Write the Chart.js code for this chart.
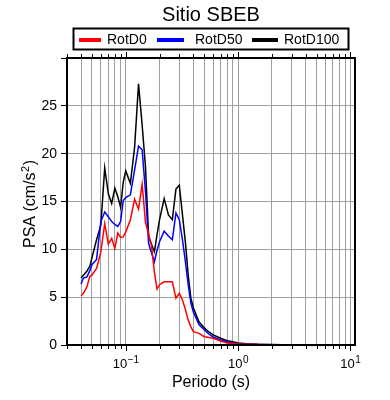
<!DOCTYPE html>
<html><head><meta charset="utf-8">
<script src="https://cdn.jsdelivr.net/npm/chart.js@4"></script>
<style>html,body{margin:0;padding:0;background:#fff}canvas{display:block}</style>
</head><body>
<canvas id="c" width="390" height="400"></canvas>
<script>
const titleText = 'Sitio SBEB';
const xTitle = 'Periodo (s)';
const yTitleMain = 'PSA (cm/s';
const yTitleSup = '2';
const yTitleEnd = ')';
const seriesNames = ['RotD0', 'RotD50', 'RotD100'];
const seriesColors = ['#ff0000', '#0000ff', '#000000'];
const periods = [0.04,0.042,0.045,0.048,0.05,0.055,0.06,0.065,0.07,0.075,0.08,0.085,0.09,0.095,0.1,0.11,0.12,0.13,0.14,0.15,0.16,0.17,0.18,0.19,0.2,0.22,0.24,0.26,0.28,0.3,0.32,0.34,0.36,0.38,0.4,0.45,0.5,0.55,0.6,0.7,0.8,0.9,1.0,1.2,1.5,2,2.5,3,4,5,6,7,8,10];
const rotD0 = [5.15,5.4,6.05,7.2,7.3, 8.0,9.7,12.7,10.55,11.15, 10.1,11.7,11.25,11.3,11.8, 13.1,15.25,14.2,16.8,12.8, 11.6,10.3,7.6,5.85,6.3, 6.6,6.6,6.6,4.9,5.4, 4.7,3.7,2.6,1.9,1.4, 1.22,0.87,0.78,0.7,0.42, 0.21,0.15,0.1,0.07,0.04, 0.02,0.015,0.01,0.008,0.006, 0.005,0.004,0.004,0.003];
const rotD50 = [6.37,7.0,7.1,7.8,8.4, 8.95,12.9,13.9,13.4,12.9, 12.6,12.4,12.9,15.1,15.4, 15.7,18.3,20.8,20.4,16.0, 10.6,9.6,8.7,9.9,10.8, 11.9,11.4,11.0,13.8,13.1, 11.0,8.7,6.3,4.4,3.45, 2.1,1.6,1.15,0.84,0.52, 0.34,0.21,0.12,0.08,0.05, 0.03,0.02,0.015,0.01,0.008, 0.006,0.005,0.005,0.004];
const rotD100 = [7.0,7.3,7.7,8.25,9.1, 11.0,12.5,18.5,15.8,14.8, 16.4,15.5,14.4,17.0,18.2, 16.9,20.7,27.3,23.0,18.6, 11.3,10.5,9.75,11.5,13.1, 15.3,13.6,13.1,16.3,16.7, 13.6,10.7,7.3,4.9,3.9, 2.4,1.8,1.36,1.05,0.7, 0.45,0.33,0.22,0.13,0.07, 0.04,0.03,0.02,0.015,0.01, 0.01,0.01,0.01,0.01];
const xMin = 0.03, xMax = 11;
const yMin = 0, yMax = 30, yStep = 5;
const xTickValues = [0.1, 1, 10];
const xTickBase = ['10', '10', '10'];
const xTickExp = ['−1', '0', '1'];

// log grid values 1..9 x 10^n inside range
const xGrid = [];
for (let e = -2; e <= 1; e++) {
  for (let k = 1; k <= 9; k++) {
    const v = Number((k * Math.pow(10, e)).toPrecision(3));
    if (v >= xMin && v <= xMax) xGrid.push(v);
  }
}
const allSeries = [rotD0, rotD50, rotD100];
const FONT = '"Liberation Sans", Arial, sans-serif';

const decor = {
  id: 'decor',
  afterDraw(chart) {
    const ctx = chart.ctx, a = chart.chartArea, xs = chart.scales.x;
    ctx.save();
    // frame
    ctx.strokeStyle = '#000'; ctx.lineWidth = 2;
    ctx.strokeRect(a.left, a.top, a.right - a.left, a.bottom - a.top);
    // x tick marks top & bottom
    ctx.lineWidth = 1;
    xGrid.forEach(v => {
      const px = Math.round(xs.getPixelForValue(v)) + 0.5;
      const major = Math.abs(Math.log10(v) - Math.round(Math.log10(v))) < 1e-9;
      const len = major ? 5 : 3;
      ctx.beginPath();
      ctx.moveTo(px, a.top - 1); ctx.lineTo(px, a.top - 1 - len);
      ctx.moveTo(px, a.bottom + 1); ctx.lineTo(px, a.bottom + 1 + len);
      ctx.stroke();
    });
    ctx.fillStyle = '#000';
    // x tick labels with superscripts
    ctx.textBaseline = 'alphabetic'; ctx.textAlign = 'left';
    xTickValues.forEach((v, i) => {
      const px = xs.getPixelForValue(v);
      ctx.font = '13px ' + FONT;
      const wb = ctx.measureText(xTickBase[i]).width;
      ctx.font = '10px ' + FONT;
      const we = ctx.measureText(xTickExp[i]).width;
      const x0 = px - (wb + we) / 2;
      ctx.font = '13px ' + FONT;
      ctx.fillText(xTickBase[i], x0, 368);
      ctx.font = '10px ' + FONT;
      ctx.fillText(xTickExp[i], x0 + wb + 0.5, 363);
    });
    // title
    const cx = (a.left + a.right) / 2;
    ctx.textAlign = 'center';
    ctx.font = '20px ' + FONT;
    ctx.fillText(titleText, cx, 21);
    // legend
    ctx.lineWidth = 2;
    ctx.strokeRect(73.5, 28.5, 275, 21);
    const lineX = [79, 157, 252], lineW = [22, 27, 26], textX = [107, 195, 284];
    ctx.font = '14px ' + FONT; ctx.textAlign = 'left';
    seriesNames.forEach((n, i) => {
      ctx.fillStyle = seriesColors[i];
      ctx.fillRect(lineX[i], 38, lineW[i], 4);
      ctx.fillStyle = '#000';
      ctx.fillText(n, textX[i], 43.5);
    });
    // axis titles
    ctx.font = '16px ' + FONT; ctx.textAlign = 'center';
    ctx.fillText(xTitle, cx, 387);
    // y title with superscript
    ctx.translate(35, (a.top + a.bottom) / 2 + 3);
    ctx.rotate(-Math.PI / 2);
    ctx.font = '16px ' + FONT;
    const w1 = ctx.measureText(yTitleMain).width, w3 = ctx.measureText(yTitleEnd).width;
    ctx.font = '11px ' + FONT;
    const w2 = ctx.measureText(yTitleSup).width;
    let x = -(w1 + w2 + w3) / 2;
    ctx.textAlign = 'left';
    ctx.font = '16px ' + FONT; ctx.fillText(yTitleMain, x, 0); x += w1;
    ctx.font = '11px ' + FONT; ctx.fillText(yTitleSup, x + 0.5, -6); x += w2 + 1;
    ctx.font = '16px ' + FONT; ctx.fillText(yTitleEnd, x, 0);
    ctx.restore();
  }
};

new Chart(document.getElementById('c'), {
  type: 'line',
  data: {
    datasets: allSeries.map((s, i) => ({
      label: seriesNames[i],
      data: periods.map((p, j) => ({x: p, y: s[j]})),
      borderColor: seriesColors[i],
      backgroundColor: seriesColors[i],
      borderWidth: 1.5,
      pointRadius: 0,
      tension: 0,
      fill: false
    }))
  },
  options: {
    responsive: false,
    devicePixelRatio: 1,
    animation: false,
    layout: {padding: {top: 58, right: 35, left: 0, bottom: 0}},
    plugins: {legend: {display: false}, title: {display: false}, tooltip: {enabled: false}},
    scales: {
      x: {
        type: 'logarithmic', min: xMin, max: xMax,
        afterFit(s) { s.height = 55; },
        afterBuildTicks(s) { s.ticks = xGrid.map(v => ({value: v})); },
        border: {display: false},
        grid: {color: '#a0a0a0', lineWidth: 1, drawTicks: false},
        ticks: {display: false, autoSkip: false, maxRotation: 0, minRotation: 0}
      },
      y: {
        min: yMin, max: yMax,
        afterFit(s) { s.width = 67; },
        border: {display: false},
        grid: {color: '#a0a0a0', lineWidth: 1, drawTicks: true, tickLength: 6, tickColor: '#000'},
        ticks: {
          stepSize: yStep, padding: 4, color: '#000', font: {family: FONT, size: 14},
          callback(v) { return v < yMax ? String(v) : ''; }
        }
      }
    }
  },
  plugins: [decor]
});
</script>
</body></html>
